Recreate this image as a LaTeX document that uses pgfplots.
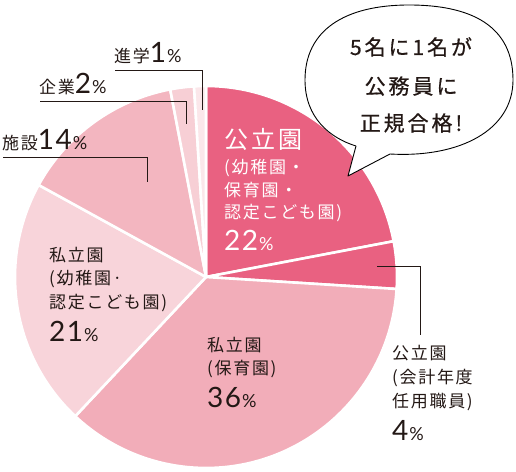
\documentclass[border=0pt]{standalone}
\usepackage{pgfplots}
\pgfplotsset{compat=1.18}
\usepackage{pgfplotstable}
\usepackage{fontspec}
\setmainfont{Noto Sans CJK JP}
\newfontfamily\jp[LetterSpace=10]{Noto Sans CJK JP}
\newfontfamily\jpw[LetterSpace=14]{Noto Sans CJK JP}
\newfontfamily\jpb[LetterSpace=14,FakeBold=0.6]{Noto Sans CJK JP}
\newfontfamily\num[LetterSpace=5]{Lato}
\newcommand\fs[1]{\fontsize{#1pt}{#1pt}\selectfont}
\newcommand\pc[1]{{\num\fs{28}#1}\kern1pt{\num\fs{18}\%}}
\definecolor{txt}{RGB}{35,24,21}
\definecolor{c0}{RGB}{233,97,129}
\definecolor{c1}{RGB}{233,97,129}
\definecolor{c2}{RGB}{242,173,185}
\definecolor{c3}{RGB}{248,212,218}
\definecolor{c4}{RGB}{243,182,192}
\definecolor{c5}{RGB}{247,207,213}
\definecolor{c6}{RGB}{251,231,234}
\pgfplotstableread{
slice pct
0 22
1 4
2 36
3 21
4 14
5 2
6 1
}\piedata
\newcommand\Lb[4][txt]{\node[anchor=base west,inner sep=0pt,text=#1] at (axis cs:#2,471-#3) {#4};}
\begin{document}
\begin{tikzpicture}
\xdef\cum{0}
\foreach \i in {0,...,6}{%
  \pgfplotstablegetelem{\i}{pct}\of\piedata
  \pgfmathsetmacro\a{90-3.6*\cum}%
  \expandafter\xdef\csname sa\i\endcsname{\a}%
  \pgfmathsetmacro\b{\cum+\pgfplotsretval}%
  \xdef\cum{\b}%
  \pgfmathsetmacro\a{90-3.6*\cum}%
  \expandafter\xdef\csname ea\i\endcsname{\a}%
}
\begin{axis}[x=1pt,y=1pt,xmin=0,xmax=516,ymin=0,ymax=471,hide axis,clip=false,
  anchor=south west,at={(0pt,0pt)}]
\pgfplotsinvokeforeach{0,...,6}{%
  \edef\tmp{\noexpand\fill[c#1,draw=white,line width=2.6pt,line join=round]
    (axis cs:206,194) -- ++(\csname sa#1\endcsname:191pt)
    arc[start angle=\csname sa#1\endcsname, end angle=\csname ea#1\endcsname, radius=191pt] -- cycle;}%
  \tmp
}
% speech bubble
\draw[fill=white,draw=black,line width=0.9pt,line join=round]
  (axis cs:390,317) .. controls (axis cs:460,313) and (axis cs:513,341) .. (axis cs:513,391)
  .. controls (axis cs:513,446) and (axis cs:470,466) .. (axis cs:409,466)
  .. controls (axis cs:345,466) and (axis cs:305,441) .. (axis cs:305,391)
  .. controls (axis cs:305,353) and (axis cs:330,333) .. (axis cs:356,325)
  -- (axis cs:348,295) -- cycle;
\node[anchor=base,inner sep=0pt,text=txt] at (axis cs:411,471-55) {\jpb\fs{21}5名に1名が};
\node[anchor=base,inner sep=0pt,text=txt] at (axis cs:411,471-94) {\jpb\fs{21}公務員に};
\node[anchor=base,inner sep=0pt,text=txt] at (axis cs:411,471-131) {\jpb\fs{21}正規合格!};
% leader lines
\draw[txt,line width=0.9pt] (axis cs:115,471-70) -- (axis cs:202,471-70) -- (axis cs:202,471-110);
\draw[txt,line width=0.9pt] (axis cs:40,471-101) -- (axis cs:186,471-101) -- (axis cs:186,471-124);
\draw[txt,line width=0.9pt] (axis cs:3,471-157) -- (axis cs:147,471-157) -- (axis cs:147,471-182);
\draw[txt,line width=0.9pt] (axis cs:377,471-266) -- (axis cs:420,471-266) -- (axis cs:420,471-335);
% outside labels
\Lb{114}{63}{\jp\fs{17}進学\pc{1}}
\Lb{39}{94}{\jp\fs{17}企業\pc{2}}
\Lb{2}{150}{\jp\fs{17}施設\pc{14}}
% 22% slice
\Lb[white]{224}{149}{\jpw\fs{24}公立園}
\Lb[white]{224}{174}{\jp\fs{17}(幼稚園・}
\Lb[white]{224}{197}{\jp\fs{17}保育園・}
\Lb[white]{224}{219}{\jp\fs{17}認定こども園)}
\Lb[white]{224}{251}{\pc{22}}
% 36%
\Lb{207}{352}{\jp\fs{17}私立園}
\Lb{207}{375}{\jp\fs{17}(保育園)}
\Lb{207}{407}{\pc{36}}
% 21%
\Lb{49}{262}{\jp\fs{17}私立園}
\Lb{49}{285}{\jp\fs{17}(幼稚園·}
\Lb{49}{309}{\jp\fs{17}認定こども園)}
\Lb{49}{342}{\pc{21}}
% 4%
\Lb{392}{360}{\jp\fs{17}公立園}
\Lb{392}{383}{\jp\fs{17}(会計年度}
\Lb{392}{407}{\jp\fs{17}任用職員)}
\Lb{392}{440}{\pc{4}}
\end{axis}
\pgfresetboundingbox
\path[use as bounding box] (0pt,0pt) rectangle (516pt,471pt);
\end{tikzpicture}
\end{document}
